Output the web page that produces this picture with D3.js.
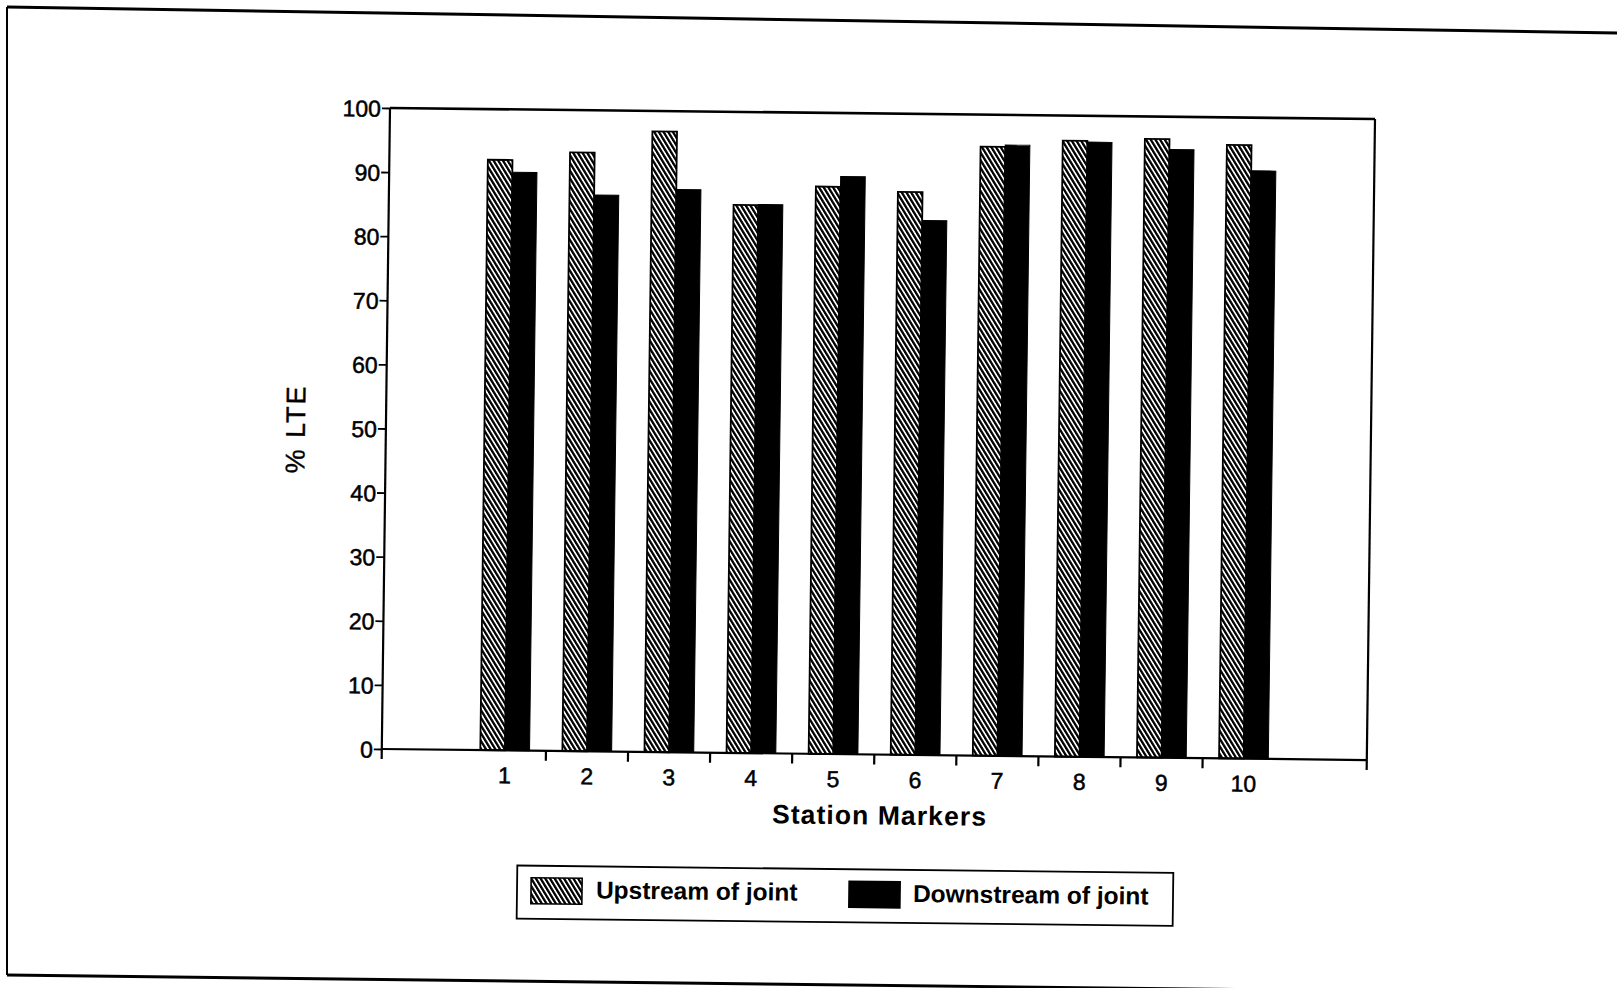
<!DOCTYPE html>
<html>
<head>
<meta charset="utf-8">
<script src="https://cdn.jsdelivr.net/npm/d3@7"></script>
<style>
  html, body { margin: 0; padding: 0; background: #fff; }
  svg { display: block; }
  text { font-family: "Liberation Sans", Arial, Helvetica, sans-serif; fill: #000; }
</style>
</head>
<body>
<svg id="chart" width="1617" height="988"></svg>
<script>
// Station markers along the joint
const stations = ["1", "2", "3", "4", "5", "6", "7", "8", "9", "10"];
// % LTE measured upstream of the joint
const upstream = [92.1, 93.4, 96.8, 85.5, 88.5, 87.8, 95.0, 96.1, 96.5, 95.7];
// % LTE measured downstream of the joint
const downstream = [90.2, 86.8, 87.8, 85.6, 90.1, 83.4, 95.3, 95.9, 94.9, 91.7];
const yTicks = [0, 10, 20, 30, 40, 50, 60, 70, 80, 90, 100];
const seriesNames = ["Upstream of joint", "Downstream of joint"];

const svg = d3.select("#chart");

// hatch fill for the upstream bars
const defs = svg.append("defs");
const pat = defs.append("pattern")
  .attr("id", "hatch")
  .attr("patternUnits", "userSpaceOnUse")
  .attr("width", 4.0).attr("height", 10)
  .attr("patternTransform", "rotate(-32)");
pat.append("rect").attr("width", 4.0).attr("height", 10).attr("fill", "#fff");
pat.append("rect").attr("width", 2.3).attr("height", 10).attr("fill", "#000");

// page border
const page = svg.append("g").attr("fill", "none").attr("stroke", "#000");
page.append("line").attr("x1", 7).attr("y1", 7).attr("x2", 1617).attr("y2", 33).attr("stroke-width", 3);
page.append("line").attr("x1", 7).attr("y1", 7).attr("x2", 7).attr("y2", 975).attr("stroke-width", 2);
page.append("line").attr("x1", 7).attr("y1", 975).attr("x2", 1617).attr("y2", 994).attr("stroke-width", 3);

// chart group (slightly tilted sheet)
const W = 985, H = 641;
const g = svg.append("g")
  .attr("transform", "matrix(1, 0.0112, -0.0128, 1, 390, 108)");

const x = d3.scaleBand().domain(stations).range([0, W]).paddingInner(0).paddingOuter(1);
const y = d3.scaleLinear().domain([0, 100]).range([H, 0]);
const barW = x.step() * 0.3;

// bars
const rows = stations.map((s, i) => ({ s, up: upstream[i], down: downstream[i] }));
const grp = g.append("g");
grp.selectAll("rect.up").data(rows).join("rect")
  .attr("class", "up")
  .attr("x", d => x(d.s) + x.bandwidth() / 2 - barW)
  .attr("y", d => y(d.up))
  .attr("width", barW)
  .attr("height", d => y(0) - y(d.up))
  .attr("fill", "url(#hatch)")
  .attr("stroke", "#000").attr("stroke-width", 1.8);
grp.selectAll("rect.down").data(rows).join("rect")
  .attr("class", "down")
  .attr("x", d => x(d.s) + x.bandwidth() / 2)
  .attr("y", d => y(d.down))
  .attr("width", barW)
  .attr("height", d => y(0) - y(d.down))
  .attr("fill", "#000")
  .attr("stroke", "#000").attr("stroke-width", 1);

// frame
const frame = g.append("g").attr("stroke", "#000").attr("fill", "none");
frame.append("line").attr("x1", 0).attr("y1", y(100)).attr("x2", W).attr("y2", y(100)).attr("stroke-width", 2.6);
frame.append("line").attr("x1", W).attr("y1", y(100)).attr("x2", W).attr("y2", H + 10).attr("stroke-width", 2.2);
frame.append("line").attr("x1", 0).attr("y1", H).attr("x2", W).attr("y2", H).attr("stroke-width", 2.2);
frame.append("line").attr("x1", 0).attr("y1", y(100)).attr("x2", 0).attr("y2", H + 10).attr("stroke-width", 2.2);

// y axis
const yAxis = g.append("g")
  .call(d3.axisLeft(y).tickValues(yTicks).tickSize(8).tickPadding(1).tickFormat(d3.format("d")));
yAxis.select(".domain").remove();
yAxis.selectAll(".tick line").attr("stroke", "#000").attr("stroke-width", 1.8);
yAxis.selectAll(".tick text")
  .attr("font-size", 23).attr("font-family", "Liberation Sans, Arial, sans-serif")
  .attr("fill", "#000").attr("stroke", "#000").attr("stroke-width", 0.5)
  .attr("dy", "0.36em");

// x axis: ticks between stations, labels centred on each station
const xAxis = g.append("g");
xAxis.selectAll("line").data(stations.slice(1)).join("line")
  .attr("x1", d => x(d)).attr("x2", d => x(d))
  .attr("y1", H).attr("y2", H + 10)
  .attr("stroke", "#000").attr("stroke-width", 2.2);
xAxis.selectAll("text").data(stations).join("text")
  .attr("x", d => x(d) + x.bandwidth() / 2)
  .attr("y", H + 33)
  .attr("text-anchor", "middle")
  .attr("font-size", 23)
  .attr("stroke", "#000").attr("stroke-width", 0.5)
  .text(d => d);

// axis titles
g.append("text")
  .attr("x", 498).attr("y", H + 70)
  .attr("text-anchor", "middle")
  .attr("font-size", 26.5).attr("font-weight", "bold")
  .attr("textLength", 214).attr("lengthAdjust", "spacing")
  .text("Station Markers");
g.append("text")
  .attr("transform", "translate(-81,323) rotate(-90)")
  .attr("text-anchor", "middle")
  .attr("font-size", 27)
  .attr("stroke", "#000").attr("stroke-width", 0.4)
  .attr("textLength", 87).attr("lengthAdjust", "spacing")
  .text("% LTE");

// legend
const lg = g.append("g").attr("transform", "translate(137,756)");
lg.append("rect").attr("width", 656).attr("height", 53)
  .attr("fill", "#fff").attr("stroke", "#000").attr("stroke-width", 1.8);
const items = [
  { name: seriesNames[0], fill: "url(#hatch)", sx: 14, tx: 79 },
  { name: seriesNames[1], fill: "#000", sx: 332, tx: 396 }
];
const it = lg.selectAll("g.item").data(items).join("g").attr("class", "item");
it.append("rect")
  .attr("x", d => d.sx).attr("y", 12)
  .attr("width", 51).attr("height", 26)
  .attr("fill", d => d.fill).attr("stroke", "#000").attr("stroke-width", 1.6);
it.append("text")
  .attr("x", d => d.tx).attr("y", 32)
  .attr("font-size", 24.5).attr("font-weight", "bold")
  .text(d => d.name);
</script>
</body>
</html>
